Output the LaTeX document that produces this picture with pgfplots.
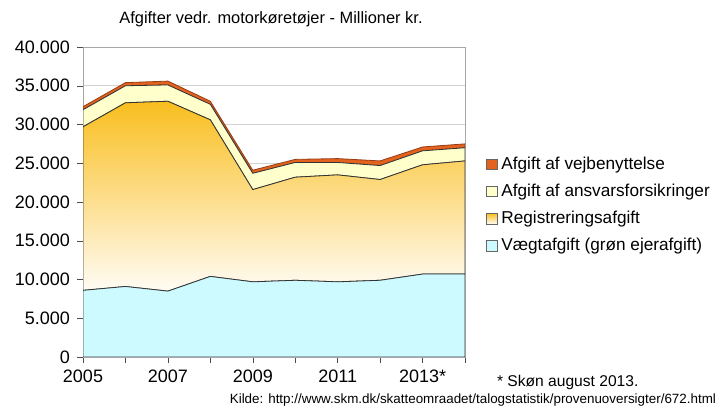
\documentclass[border=0pt]{standalone}
\usepackage{pgfplots}
\pgfplotsset{compat=1.18}
\usepackage{fontspec}
\setmainfont{Liberation Sans}
\definecolor{vej}{RGB}{226,98,30}
\definecolor{vejline}{RGB}{150,60,20}
\definecolor{ansv}{RGB}{255,255,204}
\definecolor{regtop}{RGB}{249,190,30}
\definecolor{regbot}{RGB}{255,252,245}
\definecolor{vaegt}{RGB}{204,250,255}
\begin{document}
\begin{tikzpicture}
\useasboundingbox (0,0) rectangle (364pt,206pt);
\begin{axis}[
  at={(41.5pt,27.5pt)}, anchor=south west, scale only axis,
  width=191pt, height=155pt,
  xmin=2005, xmax=2014, ymin=0, ymax=40000,
  stack plots=y, scaled y ticks=false,
  xtick={2005,2006,2007,2008,2009,2010,2011,2012,2013,2014},
  xticklabels={2005,,2007,,2009,,2011,,2013*,},
  ytick={0,5000,10000,15000,20000,25000,30000,35000,40000},
  yticklabels={0,5.000,10.000,15.000,20.000,25.000,30.000,35.000,40.000},
  ymajorgrids, grid style={gray!35},
  axis line style={gray!70},
  tick style={gray!60!black},
  tick align=outside, major tick length=3pt, tick pos=left,
  tick label style={font=\fontsize{9}{10}\selectfont},
  legend style={draw=none, fill=none, at={(1.055,0.49)}, anchor=west,
    font=\fontsize{8.6}{9.5}\selectfont, row sep=1.8pt, inner sep=0pt,
    legend cell align=left},
  reverse legend,
  legend image code/.code={\draw[#1, draw=black!60, line width=0.3pt] (0pt,-2.6pt) rectangle (5.2pt,2.6pt);},
]
\addplot[fill=vaegt, draw=gray!40!black, line width=0.4pt] coordinates {
(2005,8600) (2006,9100) (2007,8500) (2008,10400) (2009,9700) (2010,9900) (2011,9700) (2012,9900) (2013,10700) (2014,10700)} \closedcycle;
\addlegendentry{Vægtafgift (grøn ejerafgift)}
\addplot[top color=regtop, bottom color=regbot, draw=gray!40!black, line width=0.4pt] coordinates {
(2005,21100) (2006,23700) (2007,24500) (2008,20200) (2009,11900) (2010,13300) (2011,13800) (2012,13000) (2013,14100) (2014,14600)} \closedcycle;
\addlegendentry{Registreringsafgift}
\addplot[fill=ansv, draw=gray!40!black, line width=0.4pt] coordinates {
(2005,2200) (2006,2200) (2007,2100) (2008,2000) (2009,2100) (2010,1900) (2011,1600) (2012,1800) (2013,1800) (2014,1700)} \closedcycle;
\addlegendentry{Afgift af ansvarsforsikringer}
\addplot[fill=vej, draw=vejline, line width=0.4pt] coordinates {
(2005,400) (2006,400) (2007,500) (2008,400) (2009,400) (2010,400) (2011,500) (2012,600) (2013,500) (2014,500)} \closedcycle;
\addlegendentry{Afgift af vejbenyttelse}
\end{axis}
\node[font=\fontsize{8.2}{9}\selectfont] at (135.5pt,196.5pt) {Afgifter vedr. motorkøretøjer - Millioner kr.};
\node[font=\fontsize{7.8}{9}\selectfont, anchor=west] at (245pt,15pt) {* Skøn august 2013.};
\node[font=\fontsize{6.7}{8}\selectfont, anchor=east] at (361.5pt,6pt) {Kilde: http://www.skm.dk/skatteomraadet/talogstatistik/provenuoversigter/672.html};
\end{tikzpicture}
\end{document}
